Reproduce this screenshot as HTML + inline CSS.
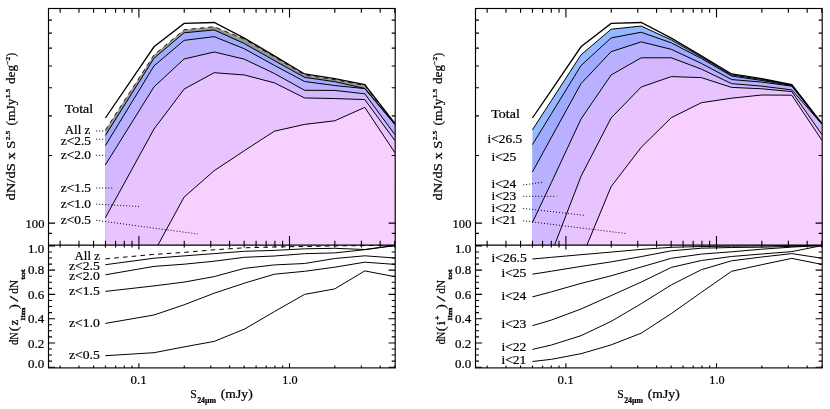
<!DOCTYPE html><html><head><meta charset="utf-8"><style>html,body{margin:0;padding:0;background:#fff}svg{display:block}text{font-family:"Liberation Serif",serif;fill:#000}</style></head><body>
<svg width="830" height="409" viewBox="0 0 830 409">
<rect width="830" height="409" fill="#fff"/>
<clipPath id="c0"><rect x="48.50" y="8.50" width="346.70" height="236.50"/></clipPath>
<g clip-path="url(#c0)">
<polygon points="105.40,130.07 154.00,54.89 184.10,29.78 214.20,26.69 244.30,39.10 274.40,56.80 304.60,75.00 334.70,79.60 364.80,85.40 394.90,124.30 396.90,300.00 105.40,300.00" fill="#969696"/>
<polygon points="105.40,135.44 154.00,58.24 184.10,32.80 214.20,29.90 244.30,43.55 274.40,60.59 304.60,77.36 334.70,81.65 364.80,88.44 394.90,124.40 396.90,300.00 105.40,300.00" fill="#a0aaff"/>
<polygon points="105.40,145.57 154.00,65.87 184.10,40.37 214.20,36.66 244.30,48.74 274.40,65.39 304.60,81.49 334.70,85.50 364.80,88.61 394.90,124.40 396.90,300.00 105.40,300.00" fill="#b9b0ff"/>
<polygon points="105.40,164.90 154.00,86.86 184.10,59.00 214.20,51.99 244.30,59.13 274.40,73.53 304.60,90.30 334.70,90.41 364.80,93.81 394.90,134.66 396.90,300.00 105.40,300.00" fill="#d4b8ff"/>
<polygon points="105.40,217.70 154.00,129.00 184.10,89.10 214.20,72.70 244.30,74.97 274.40,82.84 304.60,97.94 334.70,98.55 364.80,99.59 394.90,140.56 396.90,300.00 105.40,300.00" fill="#e8c4ff"/>
<polygon points="105.40,349.01 154.00,252.30 184.10,197.10 214.20,170.70 244.30,150.70 274.40,131.20 304.60,124.40 334.70,120.80 364.80,107.40 394.90,152.70 396.90,300.00 105.40,300.00" fill="#f8d0ff"/>
<polyline points="105.40,130.07 154.00,54.89 184.10,29.78 214.20,26.69 244.30,39.10 274.40,56.80 304.60,75.00 334.70,79.60 364.80,85.40 394.90,124.30" fill="none" stroke="#000" stroke-width="0.9" stroke-dasharray="4.5 4"/>
<polyline points="105.40,135.44 154.00,58.24 184.10,32.80 214.20,29.90 244.30,43.55 274.40,60.59 304.60,77.36 334.70,81.65 364.80,88.44 394.90,124.40" fill="none" stroke="#000" stroke-width="1.0"/>
<polyline points="105.40,145.57 154.00,65.87 184.10,40.37 214.20,36.66 244.30,48.74 274.40,65.39 304.60,81.49 334.70,85.50 364.80,88.61 394.90,124.40" fill="none" stroke="#000" stroke-width="1.0"/>
<polyline points="105.40,164.90 154.00,86.86 184.10,59.00 214.20,51.99 244.30,59.13 274.40,73.53 304.60,90.30 334.70,90.41 364.80,93.81 394.90,134.66" fill="none" stroke="#000" stroke-width="1.0"/>
<polyline points="105.40,217.70 154.00,129.00 184.10,89.10 214.20,72.70 244.30,74.97 274.40,82.84 304.60,97.94 334.70,98.55 364.80,99.59 394.90,140.56" fill="none" stroke="#000" stroke-width="1.0"/>
<polyline points="105.40,349.01 154.00,252.30 184.10,197.10 214.20,170.70 244.30,150.70 274.40,131.20 304.60,124.40 334.70,120.80 364.80,107.40 394.90,152.70" fill="none" stroke="#000" stroke-width="1.0"/>
<polyline points="105.40,118.00 154.00,46.80 184.10,23.40 214.20,22.50 244.30,38.10 274.40,55.90 304.60,74.00 334.70,78.70 364.80,84.50 394.90,123.40" fill="none" stroke="#000" stroke-width="1.3"/>
</g>
<clipPath id="d0"><rect x="48.50" y="245.00" width="346.70" height="122.90"/></clipPath>
<g clip-path="url(#d0)">
<polyline points="105.40,258.90 154.00,254.40 184.10,252.40 214.20,249.80 244.30,247.80 274.40,247.00 304.60,246.50 334.70,245.90 364.80,245.60 394.90,245.40" fill="none" stroke="#000" stroke-width="1" stroke-dasharray="4.6 4.2"/>
<polyline points="105.40,264.70 154.00,258.20 184.10,255.90 214.20,253.60 244.30,251.30 274.40,250.40 304.60,248.80 334.70,248.30 364.80,249.50 394.90,245.50" fill="none" stroke="#000" stroke-width="1.0"/>
<polyline points="105.40,274.80 154.00,266.40 184.10,264.20 214.20,261.20 244.30,257.30 274.40,256.00 304.60,253.70 334.70,252.90 364.80,249.70 394.90,245.50" fill="none" stroke="#000" stroke-width="1.0"/>
<polyline points="105.40,291.40 154.00,285.90 184.10,282.10 214.20,276.60 244.30,268.40 274.40,264.90 304.60,263.50 334.70,258.50 364.80,255.80 394.90,258.00" fill="none" stroke="#000" stroke-width="1.0"/>
<polyline points="105.40,323.40 154.00,315.00 184.10,304.80 214.20,293.20 244.30,283.20 274.40,274.20 304.60,271.30 334.70,267.20 364.80,262.20 394.90,264.40" fill="none" stroke="#000" stroke-width="1.0"/>
<polyline points="105.40,355.70 154.00,352.70 184.10,346.90 214.20,341.40 244.30,329.20 274.40,311.60 304.60,294.40 334.70,288.90 364.80,270.90 394.90,276.70" fill="none" stroke="#000" stroke-width="1.0"/>
</g>
<clipPath id="c427"><rect x="475.50" y="8.50" width="346.70" height="236.50"/></clipPath>
<g clip-path="url(#c427)">
<polygon points="532.40,129.86 551.50,100.35 581.00,54.85 611.10,29.22 641.20,26.06 671.30,39.93 701.40,57.08 731.60,74.94 761.70,79.40 791.80,85.20 821.90,124.10 823.90,300.00 532.40,300.00" fill="#96b8ff"/>
<polygon points="532.40,144.64 551.50,113.56 581.00,65.57 611.10,37.91 641.20,32.22 671.30,42.83 701.40,58.47 731.60,76.00 761.70,80.45 791.80,85.52 821.90,124.10 823.90,300.00 532.40,300.00" fill="#a0aaff"/>
<polygon points="532.40,171.96 551.50,137.14 581.00,83.61 611.10,51.73 641.20,41.86 671.30,49.33 701.40,63.43 731.60,79.57 761.70,82.09 791.80,86.17 821.90,124.10 823.90,300.00 532.40,300.00" fill="#b9b0ff"/>
<polygon points="532.40,222.60 551.50,182.30 581.00,119.00 611.10,75.00 641.20,57.80 671.30,57.80 701.40,69.12 731.60,83.63 761.70,86.15 791.80,89.90 821.90,124.10 823.90,300.00 532.40,300.00" fill="#d4b8ff"/>
<polygon points="532.40,306.06 551.50,253.10 581.00,176.30 611.10,118.00 641.20,87.00 671.30,76.60 701.40,77.60 731.60,87.40 761.70,88.77 791.80,91.60 821.90,134.54 823.90,300.00 532.40,300.00" fill="#e8c4ff"/>
<polygon points="532.40,417.23 551.50,357.38 581.00,259.40 611.10,186.70 641.20,147.30 671.30,117.70 701.40,102.70 731.60,98.20 761.70,95.00 791.80,95.20 821.90,140.26 823.90,300.00 532.40,300.00" fill="#f8d0ff"/>
<polyline points="532.40,129.86 551.50,100.35 581.00,54.85 611.10,29.22 641.20,26.06 671.30,39.93 701.40,57.08 731.60,74.94 761.70,79.40 791.80,85.20 821.90,124.10" fill="none" stroke="#000" stroke-width="1.0"/>
<polyline points="532.40,144.64 551.50,113.56 581.00,65.57 611.10,37.91 641.20,32.22 671.30,42.83 701.40,58.47 731.60,76.00 761.70,80.45 791.80,85.52 821.90,124.10" fill="none" stroke="#000" stroke-width="1.0"/>
<polyline points="532.40,171.96 551.50,137.14 581.00,83.61 611.10,51.73 641.20,41.86 671.30,49.33 701.40,63.43 731.60,79.57 761.70,82.09 791.80,86.17 821.90,124.10" fill="none" stroke="#000" stroke-width="1.0"/>
<polyline points="532.40,222.60 551.50,182.30 581.00,119.00 611.10,75.00 641.20,57.80 671.30,57.80 701.40,69.12 731.60,83.63 761.70,86.15 791.80,89.90 821.90,124.10" fill="none" stroke="#000" stroke-width="1.0"/>
<polyline points="532.40,306.06 551.50,253.10 581.00,176.30 611.10,118.00 641.20,87.00 671.30,76.60 701.40,77.60 731.60,87.40 761.70,88.77 791.80,91.60 821.90,134.54" fill="none" stroke="#000" stroke-width="1.0"/>
<polyline points="532.40,417.23 551.50,357.38 581.00,259.40 611.10,186.70 641.20,147.30 671.30,117.70 701.40,102.70 731.60,98.20 761.70,95.00 791.80,95.20 821.90,140.26" fill="none" stroke="#000" stroke-width="1.0"/>
<polyline points="532.40,118.00 551.50,90.02 581.00,46.80 611.10,23.40 641.20,22.50 671.30,38.10 701.40,55.90 731.60,74.00 761.70,78.70 791.80,84.50 821.90,123.40" fill="none" stroke="#000" stroke-width="1.3"/>
</g>
<clipPath id="d427"><rect x="475.50" y="245.00" width="346.70" height="122.90"/></clipPath>
<g clip-path="url(#d427)">
<polyline points="532.40,259.00 551.50,257.30 581.00,254.70 611.10,252.10 641.20,249.40 671.30,247.30 701.40,246.50 731.60,246.20 761.70,245.90 791.80,245.70 821.90,245.50" fill="none" stroke="#000" stroke-width="1.0"/>
<polyline points="532.40,274.20 551.50,271.20 581.00,266.40 611.10,261.90 641.20,256.60 671.30,250.80 701.40,248.20 731.60,247.50 761.70,247.20 791.80,246.30 821.90,245.50" fill="none" stroke="#000" stroke-width="1.0"/>
<polyline points="532.40,296.90 551.50,291.80 581.00,283.40 611.10,275.80 641.20,267.00 671.30,258.30 701.40,254.10 731.60,251.80 761.70,249.20 791.80,247.10 821.90,245.50" fill="none" stroke="#000" stroke-width="1.0"/>
<polyline points="532.40,325.70 551.50,320.00 581.00,309.00 611.10,295.60 641.20,282.10 671.30,267.40 701.40,260.50 731.60,256.50 761.70,254.00 791.80,251.60 821.90,245.60" fill="none" stroke="#000" stroke-width="1.0"/>
<polyline points="532.40,349.40 551.50,345.00 581.00,335.70 611.10,321.40 641.20,303.70 671.30,284.90 701.40,269.70 731.60,260.80 761.70,257.00 791.80,253.60 821.90,258.20" fill="none" stroke="#000" stroke-width="1.0"/>
<polyline points="532.40,361.50 551.50,359.30 581.00,353.70 611.10,344.90 641.20,333.20 671.30,313.60 701.40,292.30 731.60,271.30 761.70,264.70 791.80,258.40 821.90,264.40" fill="none" stroke="#000" stroke-width="1.0"/>
</g>
<path d="M60.15 8.50v4.30M60.15 240.70v6.70M60.15 367.90v-2.40M78.97 8.50v4.30M78.97 240.70v6.70M78.97 367.90v-2.40M93.56 8.50v4.30M93.56 240.70v6.70M93.56 367.90v-2.40M105.49 8.50v4.30M105.49 240.70v6.70M105.49 367.90v-2.40M115.57 8.50v4.30M115.57 240.70v6.70M115.57 367.90v-2.40M124.31 8.50v4.30M124.31 240.70v6.70M124.31 367.90v-2.40M132.01 8.50v4.30M132.01 240.70v6.70M132.01 367.90v-2.40M138.90 8.50v9.00M138.90 236.00v13.60M138.90 367.90v-4.60M184.24 8.50v4.30M184.24 240.70v6.70M184.24 367.90v-2.40M210.75 8.50v4.30M210.75 240.70v6.70M210.75 367.90v-2.40M229.57 8.50v4.30M229.57 240.70v6.70M229.57 367.90v-2.40M244.16 8.50v4.30M244.16 240.70v6.70M244.16 367.90v-2.40M256.09 8.50v4.30M256.09 240.70v6.70M256.09 367.90v-2.40M266.17 8.50v4.30M266.17 240.70v6.70M266.17 367.90v-2.40M274.91 8.50v4.30M274.91 240.70v6.70M274.91 367.90v-2.40M282.61 8.50v4.30M282.61 240.70v6.70M282.61 367.90v-2.40M289.50 8.50v9.00M289.50 236.00v13.60M289.50 367.90v-4.60M334.84 8.50v4.30M334.84 240.70v6.70M334.84 367.90v-2.40M361.35 8.50v4.30M361.35 240.70v6.70M361.35 367.90v-2.40M380.17 8.50v4.30M380.17 240.70v6.70M380.17 367.90v-2.40M394.76 8.50v4.30M394.76 240.70v6.70M394.76 367.90v-2.40M48.50 233.39h3.50M395.20 233.39h-3.50M48.50 223.10h6.60M395.20 223.10h-6.60M48.50 155.43h3.50M395.20 155.43h-3.50M48.50 115.84h3.50M395.20 115.84h-3.50M48.50 87.76h3.50M395.20 87.76h-3.50M48.50 65.97h3.50M395.20 65.97h-3.50M48.50 48.17h3.50M395.20 48.17h-3.50M48.50 33.12h3.50M395.20 33.12h-3.50M48.50 20.09h3.50M395.20 20.09h-3.50M48.50 367.20h6.60M395.20 367.20h-6.60M48.50 361.13h3.50M395.20 361.13h-3.50M48.50 355.07h3.50M395.20 355.07h-3.50M48.50 349.00h3.50M395.20 349.00h-3.50M48.50 342.94h6.60M395.20 342.94h-6.60M48.50 336.88h3.50M395.20 336.88h-3.50M48.50 330.81h3.50M395.20 330.81h-3.50M48.50 324.75h3.50M395.20 324.75h-3.50M48.50 318.68h6.60M395.20 318.68h-6.60M48.50 312.62h3.50M395.20 312.62h-3.50M48.50 306.55h3.50M395.20 306.55h-3.50M48.50 300.49h3.50M395.20 300.49h-3.50M48.50 294.42h6.60M395.20 294.42h-6.60M48.50 288.36h3.50M395.20 288.36h-3.50M48.50 282.29h3.50M395.20 282.29h-3.50M48.50 276.23h3.50M395.20 276.23h-3.50M48.50 270.16h6.60M395.20 270.16h-6.60M48.50 264.09h3.50M395.20 264.09h-3.50M48.50 258.03h3.50M395.20 258.03h-3.50M48.50 251.96h3.50M395.20 251.96h-3.50M48.50 245.90h6.60M395.20 245.90h-6.60" stroke="#000" stroke-width="1.1" fill="none"/>
<rect x="48.50" y="8.50" width="346.70" height="359.40" fill="none" stroke="#000" stroke-width="1.15"/>
<path d="M48.50 245.00H395.20" stroke="#000" stroke-width="1.25"/>
<path d="M487.15 8.50v4.30M487.15 240.70v6.70M487.15 367.90v-2.40M505.97 8.50v4.30M505.97 240.70v6.70M505.97 367.90v-2.40M520.56 8.50v4.30M520.56 240.70v6.70M520.56 367.90v-2.40M532.49 8.50v4.30M532.49 240.70v6.70M532.49 367.90v-2.40M542.57 8.50v4.30M542.57 240.70v6.70M542.57 367.90v-2.40M551.31 8.50v4.30M551.31 240.70v6.70M551.31 367.90v-2.40M559.01 8.50v4.30M559.01 240.70v6.70M559.01 367.90v-2.40M565.90 8.50v9.00M565.90 236.00v13.60M565.90 367.90v-4.60M611.24 8.50v4.30M611.24 240.70v6.70M611.24 367.90v-2.40M637.75 8.50v4.30M637.75 240.70v6.70M637.75 367.90v-2.40M656.57 8.50v4.30M656.57 240.70v6.70M656.57 367.90v-2.40M671.16 8.50v4.30M671.16 240.70v6.70M671.16 367.90v-2.40M683.09 8.50v4.30M683.09 240.70v6.70M683.09 367.90v-2.40M693.17 8.50v4.30M693.17 240.70v6.70M693.17 367.90v-2.40M701.91 8.50v4.30M701.91 240.70v6.70M701.91 367.90v-2.40M709.61 8.50v4.30M709.61 240.70v6.70M709.61 367.90v-2.40M716.50 8.50v9.00M716.50 236.00v13.60M716.50 367.90v-4.60M761.84 8.50v4.30M761.84 240.70v6.70M761.84 367.90v-2.40M788.35 8.50v4.30M788.35 240.70v6.70M788.35 367.90v-2.40M807.17 8.50v4.30M807.17 240.70v6.70M807.17 367.90v-2.40M821.76 8.50v4.30M821.76 240.70v6.70M821.76 367.90v-2.40M475.50 233.39h3.50M822.20 233.39h-3.50M475.50 223.10h6.60M822.20 223.10h-6.60M475.50 155.43h3.50M822.20 155.43h-3.50M475.50 115.84h3.50M822.20 115.84h-3.50M475.50 87.76h3.50M822.20 87.76h-3.50M475.50 65.97h3.50M822.20 65.97h-3.50M475.50 48.17h3.50M822.20 48.17h-3.50M475.50 33.12h3.50M822.20 33.12h-3.50M475.50 20.09h3.50M822.20 20.09h-3.50M475.50 367.20h6.60M822.20 367.20h-6.60M475.50 361.13h3.50M822.20 361.13h-3.50M475.50 355.07h3.50M822.20 355.07h-3.50M475.50 349.00h3.50M822.20 349.00h-3.50M475.50 342.94h6.60M822.20 342.94h-6.60M475.50 336.88h3.50M822.20 336.88h-3.50M475.50 330.81h3.50M822.20 330.81h-3.50M475.50 324.75h3.50M822.20 324.75h-3.50M475.50 318.68h6.60M822.20 318.68h-6.60M475.50 312.62h3.50M822.20 312.62h-3.50M475.50 306.55h3.50M822.20 306.55h-3.50M475.50 300.49h3.50M822.20 300.49h-3.50M475.50 294.42h6.60M822.20 294.42h-6.60M475.50 288.36h3.50M822.20 288.36h-3.50M475.50 282.29h3.50M822.20 282.29h-3.50M475.50 276.23h3.50M822.20 276.23h-3.50M475.50 270.16h6.60M822.20 270.16h-6.60M475.50 264.09h3.50M822.20 264.09h-3.50M475.50 258.03h3.50M822.20 258.03h-3.50M475.50 251.96h3.50M822.20 251.96h-3.50M475.50 245.90h6.60M822.20 245.90h-6.60" stroke="#000" stroke-width="1.1" fill="none"/>
<rect x="475.50" y="8.50" width="346.70" height="359.40" fill="none" stroke="#000" stroke-width="1.15"/>
<path d="M475.50 245.00H822.20" stroke="#000" stroke-width="1.25"/>
<g opacity="0.999" stroke="#000" stroke-width="0.22"><text x="64.80" y="113.00" font-size="11.70" text-anchor="start" textLength="28.3" lengthAdjust="spacingAndGlyphs">Total</text>
<text x="64.80" y="133.50" font-size="11.70" text-anchor="start" textLength="25.4" lengthAdjust="spacingAndGlyphs" xml:space="preserve">All z</text>
<text x="60.70" y="145.00" font-size="11.70" text-anchor="start" textLength="30.3" lengthAdjust="spacingAndGlyphs">z&lt;2.5</text>
<text x="60.70" y="158.80" font-size="11.70" text-anchor="start" textLength="30.3" lengthAdjust="spacingAndGlyphs">z&lt;2.0</text>
<text x="60.70" y="191.50" font-size="11.70" text-anchor="start" textLength="30.3" lengthAdjust="spacingAndGlyphs">z&lt;1.5</text>
<text x="60.70" y="208.00" font-size="11.70" text-anchor="start" textLength="30.3" lengthAdjust="spacingAndGlyphs">z&lt;1.0</text>
<text x="60.70" y="223.50" font-size="11.70" text-anchor="start" textLength="30.3" lengthAdjust="spacingAndGlyphs">z&lt;0.5</text>
<path d="M96.20 131.00L105.40 131.00" stroke="#000" stroke-width="1" stroke-dasharray="1 2" fill="none"/>
<path d="M96.20 139.20L105.40 139.20" stroke="#000" stroke-width="1" stroke-dasharray="1 2" fill="none"/>
<path d="M96.20 155.30L105.40 155.30" stroke="#000" stroke-width="1" stroke-dasharray="1 2" fill="none"/>
<path d="M96.20 188.00L113.60 188.00" stroke="#000" stroke-width="1" stroke-dasharray="1 2" fill="none"/>
<path d="M96.20 204.10L139.00 206.50" stroke="#000" stroke-width="1" stroke-dasharray="1 2" fill="none"/>
<path d="M96.20 220.30L197.90 234.00" stroke="#000" stroke-width="1" stroke-dasharray="1 2" fill="none"/>
<text x="491.30" y="118.10" font-size="11.70" text-anchor="start" textLength="28.5" lengthAdjust="spacingAndGlyphs">Total</text>
<text x="487.60" y="142.50" font-size="11.70" text-anchor="start" textLength="34.6" lengthAdjust="spacingAndGlyphs">i&lt;26.5</text>
<text x="491.50" y="161.00" font-size="11.70" text-anchor="start" textLength="24.8" lengthAdjust="spacingAndGlyphs">i&lt;25</text>
<text x="491.50" y="187.90" font-size="11.70" text-anchor="start" textLength="24.8" lengthAdjust="spacingAndGlyphs">i&lt;24</text>
<text x="491.50" y="199.80" font-size="11.70" text-anchor="start" textLength="24.8" lengthAdjust="spacingAndGlyphs">i&lt;23</text>
<text x="491.50" y="212.00" font-size="11.70" text-anchor="start" textLength="24.8" lengthAdjust="spacingAndGlyphs">i&lt;22</text>
<text x="491.50" y="223.70" font-size="11.70" text-anchor="start" textLength="24.8" lengthAdjust="spacingAndGlyphs">i&lt;21</text>
<path d="M523.20 185.00L542.70 182.20" stroke="#000" stroke-width="1" stroke-dasharray="1 2" fill="none"/>
<path d="M523.20 196.30L556.40 196.30" stroke="#000" stroke-width="1" stroke-dasharray="1 2" fill="none"/>
<path d="M523.20 208.40L583.80 215.30" stroke="#000" stroke-width="1" stroke-dasharray="1 2" fill="none"/>
<path d="M523.20 220.80L625.90 233.50" stroke="#000" stroke-width="1" stroke-dasharray="1 2" fill="none"/>
<text x="74.50" y="259.50" font-size="11.70" text-anchor="start" textLength="25.4" lengthAdjust="spacingAndGlyphs">All z</text>
<text x="68.90" y="270.20" font-size="11.70" text-anchor="start" textLength="30.9" lengthAdjust="spacingAndGlyphs">z&lt;2.5</text>
<text x="68.90" y="280.00" font-size="11.70" text-anchor="start" textLength="30.9" lengthAdjust="spacingAndGlyphs">z&lt;2.0</text>
<text x="68.90" y="295.20" font-size="11.70" text-anchor="start" textLength="30.9" lengthAdjust="spacingAndGlyphs">z&lt;1.5</text>
<text x="68.90" y="327.20" font-size="11.70" text-anchor="start" textLength="30.9" lengthAdjust="spacingAndGlyphs">z&lt;1.0</text>
<text x="68.90" y="358.90" font-size="11.70" text-anchor="start" textLength="30.9" lengthAdjust="spacingAndGlyphs">z&lt;0.5</text>
<text x="491.60" y="262.00" font-size="11.70" text-anchor="start" textLength="35.2" lengthAdjust="spacingAndGlyphs">i&lt;26.5</text>
<text x="501.40" y="276.50" font-size="11.70" text-anchor="start" textLength="25.0" lengthAdjust="spacingAndGlyphs">i&lt;25</text>
<text x="501.40" y="299.60" font-size="11.70" text-anchor="start" textLength="25.0" lengthAdjust="spacingAndGlyphs">i&lt;24</text>
<text x="501.40" y="327.80" font-size="11.70" text-anchor="start" textLength="25.0" lengthAdjust="spacingAndGlyphs">i&lt;23</text>
<text x="501.40" y="351.30" font-size="11.70" text-anchor="start" textLength="25.0" lengthAdjust="spacingAndGlyphs">i&lt;22</text>
<text x="501.40" y="363.60" font-size="11.70" text-anchor="start" textLength="25.0" lengthAdjust="spacingAndGlyphs">i&lt;21</text>
<text x="25.60" y="228.00" font-size="11.70" text-anchor="start" textLength="18.8" lengthAdjust="spacingAndGlyphs">100</text>
<text x="28.00" y="253.00" font-size="11.70" text-anchor="start" textLength="16.2" lengthAdjust="spacingAndGlyphs">1.0</text>
<text x="28.00" y="274.10" font-size="11.70" text-anchor="start" textLength="16.2" lengthAdjust="spacingAndGlyphs">0.8</text>
<text x="28.00" y="298.60" font-size="11.70" text-anchor="start" textLength="16.2" lengthAdjust="spacingAndGlyphs">0.6</text>
<text x="28.00" y="323.10" font-size="11.70" text-anchor="start" textLength="16.2" lengthAdjust="spacingAndGlyphs">0.4</text>
<text x="28.00" y="347.90" font-size="11.70" text-anchor="start" textLength="16.2" lengthAdjust="spacingAndGlyphs">0.2</text>
<text x="28.00" y="368.10" font-size="11.70" text-anchor="start" textLength="16.2" lengthAdjust="spacingAndGlyphs">0.0</text>
<text x="130.50" y="384.10" font-size="11.70" text-anchor="start" textLength="16.1" lengthAdjust="spacingAndGlyphs">0.1</text>
<text x="282.30" y="384.10" font-size="11.70" text-anchor="start" textLength="15.2" lengthAdjust="spacingAndGlyphs">1.0</text>
<text x="190.20" y="398.00" font-size="11.70" text-anchor="start" textLength="6.5" lengthAdjust="spacingAndGlyphs">S</text>
<text x="197.20" y="403.00" font-size="7.20" text-anchor="start" textLength="18.8" lengthAdjust="spacingAndGlyphs" font-weight="bold">24μm</text>
<text x="220.80" y="398.00" font-size="11.70" text-anchor="start" textLength="31.9" lengthAdjust="spacingAndGlyphs">(mJy)</text>
<g transform="translate(15.30,200.5) rotate(-90)"><text x="0.00" y="0.00" font-size="11.70" text-anchor="start" textLength="60.0" lengthAdjust="spacingAndGlyphs" xml:space="preserve">dN/dS x S</text><text x="60.30" y="-5.60" font-size="6.60" text-anchor="start" textLength="9.4" lengthAdjust="spacingAndGlyphs" font-weight="bold">2.5</text><text x="75.00" y="0.00" font-size="11.70" text-anchor="start" textLength="27.0" lengthAdjust="spacingAndGlyphs">(mJy</text><text x="102.30" y="-5.60" font-size="6.60" text-anchor="start" textLength="9.4" lengthAdjust="spacingAndGlyphs" font-weight="bold">1.5</text><text x="116.50" y="0.00" font-size="11.70" text-anchor="start" textLength="19.0" lengthAdjust="spacingAndGlyphs">deg</text><text x="135.80" y="-5.60" font-size="6.60" text-anchor="start" textLength="8.0" lengthAdjust="spacingAndGlyphs" font-weight="bold">−2</text><text x="144.00" y="0.00" font-size="11.70" text-anchor="start" textLength="3.6" lengthAdjust="spacingAndGlyphs">)</text></g>
<text x="452.60" y="228.00" font-size="11.70" text-anchor="start" textLength="18.8" lengthAdjust="spacingAndGlyphs">100</text>
<text x="455.00" y="253.00" font-size="11.70" text-anchor="start" textLength="16.2" lengthAdjust="spacingAndGlyphs">1.0</text>
<text x="455.00" y="274.10" font-size="11.70" text-anchor="start" textLength="16.2" lengthAdjust="spacingAndGlyphs">0.8</text>
<text x="455.00" y="298.60" font-size="11.70" text-anchor="start" textLength="16.2" lengthAdjust="spacingAndGlyphs">0.6</text>
<text x="455.00" y="323.10" font-size="11.70" text-anchor="start" textLength="16.2" lengthAdjust="spacingAndGlyphs">0.4</text>
<text x="455.00" y="347.90" font-size="11.70" text-anchor="start" textLength="16.2" lengthAdjust="spacingAndGlyphs">0.2</text>
<text x="455.00" y="368.10" font-size="11.70" text-anchor="start" textLength="16.2" lengthAdjust="spacingAndGlyphs">0.0</text>
<text x="557.50" y="384.10" font-size="11.70" text-anchor="start" textLength="16.1" lengthAdjust="spacingAndGlyphs">0.1</text>
<text x="709.30" y="384.10" font-size="11.70" text-anchor="start" textLength="15.2" lengthAdjust="spacingAndGlyphs">1.0</text>
<text x="617.20" y="398.00" font-size="11.70" text-anchor="start" textLength="6.5" lengthAdjust="spacingAndGlyphs">S</text>
<text x="624.20" y="403.00" font-size="7.20" text-anchor="start" textLength="18.8" lengthAdjust="spacingAndGlyphs" font-weight="bold">24μm</text>
<text x="647.80" y="398.00" font-size="11.70" text-anchor="start" textLength="31.9" lengthAdjust="spacingAndGlyphs">(mJy)</text>
<g transform="translate(442.30,200.5) rotate(-90)"><text x="0.00" y="0.00" font-size="11.70" text-anchor="start" textLength="60.0" lengthAdjust="spacingAndGlyphs" xml:space="preserve">dN/dS x S</text><text x="60.30" y="-5.60" font-size="6.60" text-anchor="start" textLength="9.4" lengthAdjust="spacingAndGlyphs" font-weight="bold">2.5</text><text x="75.00" y="0.00" font-size="11.70" text-anchor="start" textLength="27.0" lengthAdjust="spacingAndGlyphs">(mJy</text><text x="102.30" y="-5.60" font-size="6.60" text-anchor="start" textLength="9.4" lengthAdjust="spacingAndGlyphs" font-weight="bold">1.5</text><text x="116.50" y="0.00" font-size="11.70" text-anchor="start" textLength="19.0" lengthAdjust="spacingAndGlyphs">deg</text><text x="135.80" y="-5.60" font-size="6.60" text-anchor="start" textLength="8.0" lengthAdjust="spacingAndGlyphs" font-weight="bold">−2</text><text x="144.00" y="0.00" font-size="11.70" text-anchor="start" textLength="3.6" lengthAdjust="spacingAndGlyphs">)</text></g>
<text transform="translate(18.30,344.80) rotate(-90)" font-size="11.70" textLength="12.50" lengthAdjust="spacingAndGlyphs">dN</text>
<text transform="translate(18.30,331.30) rotate(-90)" font-size="11.70" textLength="4.80" lengthAdjust="spacingAndGlyphs">(</text>
<text transform="translate(18.30,325.40) rotate(-90)" font-size="11.70" textLength="5.70" lengthAdjust="spacingAndGlyphs">z</text>
<text transform="translate(24.90,320.60) rotate(-90)" font-size="6.90" textLength="13.10" lengthAdjust="spacingAndGlyphs" stroke-width="0.45">lim</text>
<text transform="translate(18.30,308.90) rotate(-90)" font-size="11.70" textLength="4.80" lengthAdjust="spacingAndGlyphs">)</text>
<text transform="translate(18.30,301.80) rotate(-90)" font-size="11.70" textLength="6.00" lengthAdjust="spacingAndGlyphs">/</text>
<text transform="translate(18.30,293.80) rotate(-90)" font-size="11.70" textLength="13.80" lengthAdjust="spacingAndGlyphs">dN</text>
<text transform="translate(24.90,279.60) rotate(-90)" font-size="6.90" textLength="10.30" lengthAdjust="spacingAndGlyphs" stroke-width="0.45">tot</text>
<text transform="translate(445.30,344.30) rotate(-90)" font-size="11.70" textLength="12.50" lengthAdjust="spacingAndGlyphs">dN</text>
<text transform="translate(445.30,331.30) rotate(-90)" font-size="11.70" textLength="4.80" lengthAdjust="spacingAndGlyphs">(</text>
<text transform="translate(445.30,325.50) rotate(-90)" font-size="11.70" textLength="4.60" lengthAdjust="spacingAndGlyphs">i</text>
<text transform="translate(440.40,320.30) rotate(-90)" font-size="7.60" textLength="4.80" lengthAdjust="spacingAndGlyphs" font-weight="bold">+</text>
<text transform="translate(451.90,320.60) rotate(-90)" font-size="6.90" textLength="13.10" lengthAdjust="spacingAndGlyphs" stroke-width="0.45">lim</text>
<text transform="translate(445.30,308.90) rotate(-90)" font-size="11.70" textLength="4.80" lengthAdjust="spacingAndGlyphs">)</text>
<text transform="translate(445.30,301.80) rotate(-90)" font-size="11.70" textLength="6.00" lengthAdjust="spacingAndGlyphs">/</text>
<text transform="translate(445.30,293.80) rotate(-90)" font-size="11.70" textLength="13.80" lengthAdjust="spacingAndGlyphs">dN</text>
<text transform="translate(451.90,279.60) rotate(-90)" font-size="6.90" textLength="10.30" lengthAdjust="spacingAndGlyphs" stroke-width="0.45">tot</text></g>
</svg></body></html>
